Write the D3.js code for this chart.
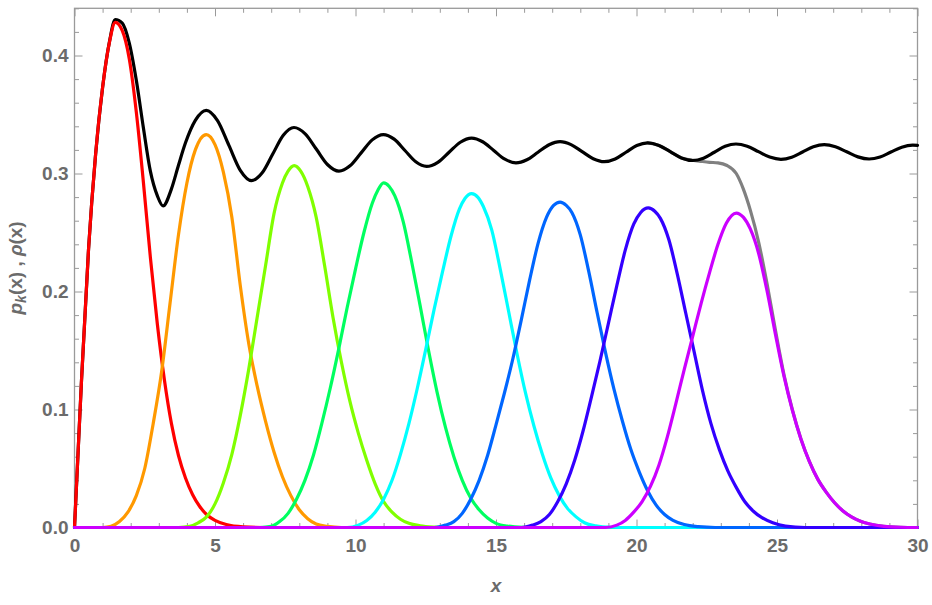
<!DOCTYPE html>
<html>
<head>
<meta charset="utf-8">
<script src="https://cdn.jsdelivr.net/npm/d3@7"></script>
<style>
  body { margin: 0; background: #fff; }
  .tick text { font-family: Arial, "Liberation Sans", sans-serif; font-weight: bold; font-size: 19px; fill: #6b6b6b; }
  .axis-title { font-family: Arial, "Liberation Sans", sans-serif; font-weight: bold; font-size: 19px; fill: #6b6b6b; }
</style>
</head>
<body>
<div id="chart"></div>
<script>
// tick values and labels
var xTicks = [0, 5, 10, 15, 20, 25, 30];
var yTicks = [0, 0.1, 0.2, 0.3, 0.4];
var yTickLabels = ["0.0", "0.1", "0.2", "0.3", "0.4"];

// p_k(x), k = 1..8 as [x, y]
var p1 = [[0,0],[0.1,0.05],[0.25,0.125],[0.5,0.236],[0.75,0.316],[1.0,0.373],[1.25,0.412],[1.45,0.428],
  [1.7,0.421],[1.95,0.397],[2.2,0.352],[2.45,0.293],[2.7,0.229],[2.95,0.172],[3.2,0.125],[3.45,0.088],
  [3.7,0.061],[3.95,0.042],[4.2,0.028],[4.45,0.018],[4.7,0.011],[5.0,0.006],[5.4,0.0025],[6.0,0.0006],
  [7.0,0],[30,0]];
var p2 = [[0,0],[1.0,0],[1.3,0.001],[1.6,0.005],[1.9,0.013],[2.2,0.027],[2.5,0.05],[2.8,0.088],[3.1,0.132],
  [3.4,0.19],[3.7,0.248],[4.0,0.292],[4.3,0.32],[4.69,0.333],[5.0,0.3245],[5.3,0.301],[5.6,0.263],[5.9,0.205],
  [6.2,0.156],[6.5,0.12],[6.8,0.09],[7.1,0.064],[7.4,0.043],[7.7,0.027],[8.0,0.015],[8.3,0.0075],[8.6,0.003],
  [9.0,0.001],[9.5,0],[30,0]];
var p3 = [[0,0],[3.7,0],[4.1,0.001],[4.4,0.004],[4.7,0.009],[5.0,0.02],[5.3,0.038],[5.6,0.062],[5.9,0.095],
  [6.2,0.134],[6.5,0.178],[6.8,0.222],[7.1,0.266],[7.4,0.292],[7.6,0.302],[7.82,0.3066],[8.05,0.302],[8.3,0.289],
  [8.6,0.263],[8.9,0.222],[9.2,0.178],[9.5,0.14],[9.8,0.107],[10.1,0.08],[10.4,0.057],[10.7,0.037],[11.0,0.022],
  [11.3,0.013],[11.6,0.007],[11.9,0.0035],[12.3,0.0015],[12.8,0.0004],[13.3,0],[30,0]];
var p4 = [[0,0],[6.6,0],[7.0,0.001],[7.3,0.005],[7.6,0.012],[7.9,0.024],[8.2,0.04],[8.5,0.061],[8.8,0.088],
  [9.1,0.118],[9.4,0.151],[9.7,0.186],[10.0,0.219],[10.3,0.25],[10.6,0.275],[10.8,0.286],[11.0,0.292],
  [11.2,0.289],[11.4,0.281],[11.7,0.259],[12.0,0.225],[12.3,0.188],[12.6,0.15],[12.9,0.115],[13.2,0.085],
  [13.5,0.06],[13.8,0.04],[14.1,0.025],[14.4,0.015],[14.7,0.008],[15.0,0.0035],[15.4,0.0012],[16.0,0.0002],
  [16.5,0],[30,0]];
var p5 = [[0,0],[9.7,0],[10.1,0.002],[10.4,0.006],[10.7,0.013],[11.0,0.024],[11.3,0.04],[11.6,0.062],
  [11.9,0.088],[12.2,0.118],[12.5,0.151],[12.8,0.185],[13.1,0.217],[13.4,0.247],[13.7,0.27],[13.9,0.279],
  [14.13,0.283],[14.35,0.28],[14.55,0.272],[14.85,0.252],[15.15,0.219],[15.45,0.183],[15.75,0.147],[16.05,0.114],
  [16.35,0.086],[16.65,0.062],[16.95,0.042],[17.25,0.027],[17.55,0.016],[17.85,0.009],[18.15,0.004],
  [18.55,0.0014],[19.1,0.0002],[19.6,0],[30,0]];
var p6 = [[0,0],[12.8,0],[13.2,0.002],[13.5,0.005],[13.8,0.012],[14.1,0.024],[14.4,0.04],[14.7,0.061],
  [15.0,0.087],[15.3,0.114],[15.6,0.143],[15.9,0.176],[16.2,0.21],[16.5,0.241],[16.8,0.263],[17.05,0.273],
  [17.28,0.2758],[17.5,0.273],[17.7,0.267],[18.0,0.248],[18.3,0.217],[18.6,0.182],[18.9,0.148],[19.2,0.117],
  [19.5,0.09],[19.8,0.066],[20.1,0.047],[20.4,0.031],[20.7,0.019],[21.0,0.011],[21.3,0.006],[21.7,0.0025],
  [22.2,0.0007],[22.8,0],[30,0]];
var p7 = [[0,0],[15.9,0],[16.3,0.002],[16.6,0.005],[16.9,0.011],[17.2,0.022],[17.5,0.037],[17.8,0.057],
  [18.1,0.082],[18.4,0.111],[18.7,0.141],[19.0,0.173],[19.3,0.205],[19.6,0.235],[19.9,0.257],[20.15,0.267],
  [20.42,0.2708],[20.65,0.268],[20.85,0.262],[21.15,0.244],[21.45,0.215],[21.75,0.182],[22.05,0.149],
  [22.35,0.116],[22.65,0.088],[22.95,0.066],[23.25,0.048],[23.55,0.034],[23.85,0.022],[24.15,0.014],
  [24.45,0.0085],[24.85,0.004],[25.3,0.0012],[26.0,0],[30,0]];
var p8 = [[0,0],[18.9,0],[19.3,0.002],[19.6,0.006],[19.9,0.013],[20.2,0.022],[20.5,0.035],[20.8,0.053],
  [21.1,0.077],[21.4,0.105],[21.7,0.134],[22.0,0.162],[22.3,0.19],[22.6,0.216],[22.9,0.24],[23.2,0.258],
  [23.55,0.2665],[23.8,0.263],[24.05,0.253],[24.35,0.232],[24.65,0.2],[24.95,0.163],[25.25,0.128],[25.55,0.099],
  [25.85,0.075],[26.15,0.056],[26.45,0.041],[26.75,0.03],[27.05,0.021],[27.35,0.014],[27.65,0.009],
  [27.95,0.0055],[28.3,0.003],[28.8,0.001],[29.4,0.0002],[30,0]];

// rho(x), black
var rho = [[0,0],[0.1,0.05],[0.25,0.125],[0.5,0.236],[0.75,0.316],[1.0,0.373],[1.25,0.4125],[1.45,0.4305],
  [1.7,0.4275],[1.95,0.4105],[2.2,0.379],[2.45,0.339],[2.7,0.302],[2.95,0.281],[3.15,0.2725],[3.45,0.287],
  [3.7,0.307],[3.95,0.326],[4.3,0.345],[4.69,0.3535],[5.09,0.3448],[5.495,0.3238],[5.9,0.3027],[6.3,0.294],
  [6.68,0.3006],[7.055,0.3165],[7.43,0.3324],[7.81,0.339],[8.21,0.3336],[8.61,0.3205],[9.01,0.3074],[9.41,0.302],
  [9.805,0.3065],[10.2,0.3175],[10.595,0.3285],[10.99,0.333],[11.375,0.3291],[11.76,0.3195],[12.145,0.3099],
  [12.53,0.306],[12.93,0.3095],[13.33,0.318],[13.73,0.3265],[14.13,0.33],[14.525,0.3269],[14.92,0.3195],
  [15.315,0.3121],[15.71,0.309],[16.1,0.3116],[16.495,0.318],[16.89,0.3244],[17.28,0.327],[17.67,0.3245],
  [18.065,0.3185],[18.46,0.3125],[18.85,0.31],[19.24,0.3123],[19.625,0.318],[20.01,0.3237],[20.4,0.326],
  [20.8,0.3238],[21.2,0.3185],[21.6,0.3132],[22.0,0.311],[22.385,0.313],[22.77,0.318],[23.155,0.323],[23.54,0.325],
  [23.94,0.3231],[24.34,0.3185],[24.74,0.3139],[25.14,0.312],[25.525,0.3138],[25.91,0.3182],[26.295,0.3226],
  [26.68,0.3244],[27.08,0.3226],[27.48,0.3184],[27.88,0.3141],[28.28,0.3123],[28.67,0.314],[29.055,0.3182],
  [29.44,0.3223],[29.83,0.324],[30,0.3238]];

// sum of the eight p_k, gray (lies under rho below x = 20)
var pSum = [[20.4,0.326],[20.8,0.3238],[21.2,0.3185],[21.6,0.3132],[22.0,0.3112],[22.3,0.3103],[22.6,0.3095],
  [22.9,0.309],[23.2,0.307],[23.55,0.3],[23.8,0.287],[24.05,0.269],[24.35,0.2415],[24.65,0.206],[24.95,0.1665],
  [25.25,0.1294],[25.55,0.0996],[25.85,0.0753],[26.15,0.0561],[26.45,0.041],[26.75,0.03],[27.05,0.021],
  [27.35,0.014],[27.65,0.009],[27.95,0.0055],[28.3,0.003],[28.8,0.001],[29.4,0.0002],[30,0]];

var pk = [p1, p2, p3, p4, p5, p6, p7, p8];
var pkColors = ["#ff0000", "#ff9900", "#80ff00", "#00ff60", "#00ffff", "#0066ff", "#3300ff", "#cc00ff"];

var W = 932, H = 605;
var margin = {top: 8.3, right: 14.5, bottom: 77.5, left: 74.5};

var svg = d3.select("#chart").append("svg")
    .attr("width", W)
    .attr("height", H);

var x = d3.scaleLinear().domain([0, 30]).range([margin.left, W - margin.right]);
var y = d3.scaleLinear().domain([0, 0.44]).range([H - margin.bottom, margin.top]);

var xMinor = d3.range(0, 31, 1).filter(function(v) { return v % 5 != 0; });
var yMinor = d3.range(0, 23).map(function(i) { return i * 0.02; }).filter(function(v, i) { return i % 5 != 0; });

// minor ticks, all four sides
function minorAxis(axis, scale, vals) {
  return axis(scale).tickValues(vals).tickSize(-4.5).tickFormat("");
}
svg.append("g").attr("transform", "translate(0," + y(0) + ")").call(minorAxis(d3.axisBottom, x, xMinor));
svg.append("g").attr("transform", "translate(0," + y(0.44) + ")").call(minorAxis(d3.axisTop, x, xMinor));
svg.append("g").attr("transform", "translate(" + x(0) + ",0)").call(minorAxis(d3.axisLeft, y, yMinor));
svg.append("g").attr("transform", "translate(" + x(30) + ",0)").call(minorAxis(d3.axisRight, y, yMinor));

// major ticks
svg.append("g").attr("transform", "translate(0," + y(0) + ")")
  .call(d3.axisBottom(x).tickValues(xTicks).tickSize(-8).tickPadding(11).tickFormat(d3.format("d")));
svg.append("g").attr("transform", "translate(0," + y(0.44) + ")")
  .call(d3.axisTop(x).tickValues(xTicks).tickSize(-8).tickFormat(""));
svg.append("g").attr("transform", "translate(" + x(0) + ",0)")
  .call(d3.axisLeft(y).tickValues(yTicks).tickSize(-8).tickPadding(6)
    .tickFormat(function(d, i) { return yTickLabels[i]; }));
svg.append("g").attr("transform", "translate(" + x(30) + ",0)")
  .call(d3.axisRight(y).tickValues(yTicks).tickSize(-8).tickFormat(""));

svg.selectAll(".domain").remove();
svg.selectAll(".tick line").attr("stroke", "#9a9a9a").attr("stroke-width", 1);

// frame
svg.append("rect")
  .attr("x", x(0)).attr("y", y(0.44))
  .attr("width", x(30) - x(0)).attr("height", y(0) - y(0.44))
  .attr("fill", "none").attr("stroke", "#9a9a9a").attr("stroke-width", 1.3);

var line = d3.line()
  .x(function(d) { return x(d[0]); })
  .y(function(d) { return y(d[1]); })
  .curve(d3.curveMonotoneX);

var curves = svg.append("g").attr("fill", "none").attr("stroke-width", 3.2)
  .attr("stroke-linejoin", "round").attr("stroke-linecap", "round");

curves.append("path").attr("d", line(pSum)).attr("stroke", "#808080");
curves.append("path").attr("d", line(rho)).attr("stroke", "#000");
curves.selectAll(".pk")
  .data(pk)
  .enter()
  .append("path")
    .attr("class", "pk")
    .attr("d", function(d) { return line(d); })
    .attr("stroke", function(d, i) { return pkColors[i]; });

// axis titles
svg.append("text").attr("class", "axis-title")
  .attr("x", (x(0) + x(30)) / 2).attr("y", 592)
  .attr("text-anchor", "middle").style("font-style", "italic")
  .text("x");

var yt = svg.append("text").attr("class", "axis-title")
  .attr("transform", "translate(22," + ((y(0) + y(0.44)) / 2) + ") rotate(-90)")
  .attr("text-anchor", "middle");
yt.append("tspan").style("font-style", "italic").text("p");
yt.append("tspan").style("font-style", "italic").style("font-size", "14px").attr("dy", 4).text("k");
yt.append("tspan").attr("dy", -4).text("(x) , ");
yt.append("tspan").style("font-style", "italic").text("ρ");
yt.append("tspan").text("(x)");
</script>
</body>
</html>
